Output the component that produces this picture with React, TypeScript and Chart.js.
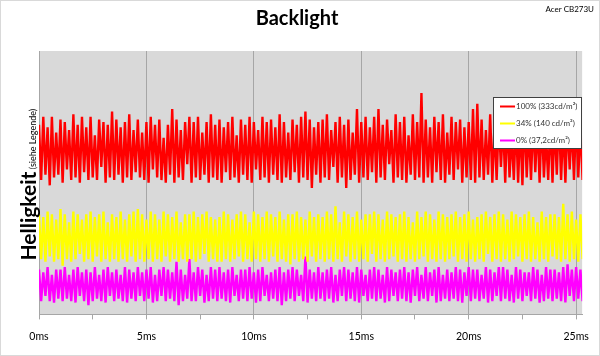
import { useEffect, useRef } from 'react';
import { Chart, registerables } from 'chart.js';

Chart.register(...registerables);

const TITLE = 'Backlight';
const BRAND = 'Acer CB273U';
const Y_TITLE_MAIN = 'Helligkeit';
const Y_TITLE_SUB = ' (siehe Legende)';
const TIME_STEP_MS = 0.1;
const X_MAX_MS = 25.28;
const X_TICKS = [0, 2.5, 5, 7.5, 10, 12.5, 15, 17.5, 20, 22.5, 25];
const LEGEND_LABELS = ['100% (333cd/m²)', '34% (140 cd/m²)', '0% (37,2cd/m²)'];
const SERIES_COLORS = ['#ff0000', '#ffff00', '#ff00ff'];

const RED_100 = [
  72, 51, 75, 53, 71, 49, 75, 52, 69, 53, 74, 50,
  73, 55, 70, 51, 76, 52, 72, 50, 75, 54, 71, 51,
  75, 52, 68, 51, 74, 56, 73, 50, 72, 52, 77, 51,
  74, 53, 71, 50, 73, 52, 76, 51, 70, 54, 74, 52,
  69, 51, 73, 50, 75, 55, 72, 52, 74, 51, 67, 50,
  72, 53, 78, 50, 74, 52, 70, 51, 73, 57, 75, 50,
  73, 52, 75, 51, 69, 53, 73, 50, 76, 52, 72, 51,
  74, 50, 71, 54, 73, 51, 75, 52, 68, 50, 74, 53,
  72, 51, 75, 50, 73, 55, 70, 51, 75, 52, 73, 50,
  74, 53, 71, 51, 76, 50, 73, 52, 69, 51, 74, 54,
  72, 50, 75, 52, 77, 51, 74, 48, 71, 53, 73, 50,
  74, 52, 76, 51, 70, 56, 73, 50, 75, 52, 72, 48,
  74, 51, 69, 53, 78, 50, 73, 52, 75, 51, 71, 54,
  75, 50, 78, 52, 72, 51, 74, 57, 70, 50, 76, 52,
  73, 51, 75, 50, 68, 53, 76, 51, 73, 52, 84, 50,
  74, 52, 71, 50, 75, 54, 73, 51, 76, 50, 69, 53,
  75, 51, 73, 55, 74, 50, 71, 52, 73, 51, 78, 50,
  80, 52, 74, 51, 70, 53, 76, 50, 72, 51, 74, 56,
  73, 50, 75, 52, 69, 51, 74, 50, 73, 49, 76, 52,
  71, 51, 74, 54, 73, 50, 75, 52, 68, 51, 74, 50,
  73, 53, 76, 51, 72, 50, 74, 55, 73, 51, 75, 52,
  72, 51,
];

const YELLOW_34 = [
  38, 21, 37, 20, 39, 22, 38, 20, 36, 21, 40, 18.5,
  38, 21, 35, 20, 39, 21, 38, 23, 36, 20, 38, 21,
  39, 20, 37, 22, 38, 20, 39, 21, 35, 20, 38, 21,
  37, 20, 39, 21, 36, 20, 38, 22, 39, 20, 40, 21,
  38, 20, 36, 21, 39, 20, 38, 21, 36, 20, 39, 22,
  38, 20, 37, 21, 39, 20, 35, 21, 38, 20, 38, 21,
  39, 20, 37, 21, 38, 23, 39, 20, 37, 21, 36, 20,
  37, 20, 39, 21, 38, 20, 36, 21, 38, 22, 39, 20,
  38, 21, 35, 20, 39, 21, 38, 20, 37, 21, 39, 20,
  38, 22, 37, 20, 39, 21, 36, 20, 38, 19, 38, 21,
  39, 20, 37, 21, 36, 20, 39, 22, 37, 20, 38, 21,
  37, 20, 39, 21, 38, 20, 41, 21, 35, 20, 39, 22,
  38, 20, 37, 21, 39, 20, 36, 21, 38, 20, 38, 23,
  39, 20, 38, 21, 36, 20, 39, 21, 38, 22, 37, 20,
  38, 21, 39, 20, 37, 21, 35, 20, 39, 21, 37, 22,
  39, 20, 38, 21, 36, 20, 39, 21, 38, 20, 37, 21,
  38, 22, 39, 20, 37, 21, 38, 20, 39, 21, 36, 20,
  37, 21, 38, 20, 39, 23, 37, 20, 38, 21, 39, 20,
  38, 21, 36, 20, 39, 21, 38, 22, 37, 20, 38, 21,
  39, 20, 37, 21, 35, 20, 39, 21, 37, 20, 38, 22,
  38, 21, 37, 20, 42, 21, 38, 20, 39, 21, 36, 20,
  38, 21,
];

const MAGENTA_0 = [
  17, 5, 16, 7, 18, 5, 15, 4.5, 17, 6, 17, 5,
  18, 6, 15, 5, 17, 4.5, 18, 7, 16, 5, 17, 3.5,
  16, 5, 18, 6, 15, 5, 17, 4.5, 18, 7, 16, 5,
  17, 6, 15, 5, 18, 4.5, 17, 6, 16, 5, 18, 7,
  16, 5, 17, 6, 18, 4.5, 15, 5, 17, 7, 18, 5,
  17, 6, 16, 5, 20, 3.5, 17, 5, 15, 6, 21, 5,
  16, 5, 18, 7, 17, 4.5, 15, 5, 18, 6, 17, 5,
  18, 6, 16, 5, 17, 4.5, 18, 7, 15, 5, 17, 6,
  17, 5, 18, 6, 16, 4.5, 17, 5, 18, 7, 15, 5,
  16, 6, 17, 5, 18, 3.5, 16, 5, 17, 6, 18, 5,
  17, 7, 15, 5, 22, 4.5, 17, 6, 16, 5, 18, 6,
  16, 5, 17, 6, 18, 4.5, 15, 5, 17, 7, 18, 5,
  17, 6, 16, 5, 18, 4.5, 17, 7, 15, 5, 17, 6,
  18, 5, 17, 6, 15, 4.5, 18, 5, 17, 7, 16, 5,
  17, 6, 18, 5, 16, 4.5, 17, 7, 18, 5, 15, 6,
  18, 5, 16, 7, 17, 4.5, 18, 5, 15, 6, 17, 5,
  16, 6, 18, 5, 17, 4.5, 16, 7, 18, 5, 17, 6,
  17, 5, 15, 6, 18, 4.5, 17, 5, 16, 7, 18, 5,
  18, 6, 17, 5, 15, 4.5, 18, 6, 17, 5, 16, 7,
  16, 5, 18, 6, 17, 4.5, 15, 5, 18, 6, 17, 5,
  17, 6, 16, 5, 18, 4.5, 19, 7, 17, 5, 18, 6,
  17, 5,
];

const FONT = 'Lato, "Open Sans", sans-serif';

const toPoints = (values: number[]) => values.map((v, i) => ({ x: i * TIME_STEP_MS, y: v }));

export default function App() {
  const ref = useRef<HTMLCanvasElement>(null);

  useEffect(() => {
    document.body.style.margin = '0';
    const canvas = ref.current;
    if (!canvas) return;

    const decor = {
      id: 'decor',
      beforeDraw(chart: any) {
        const { ctx, chartArea: a } = chart;
        ctx.save();
        ctx.fillStyle = '#ffffff';
        ctx.fillRect(0, 0, chart.width, chart.height);
        ctx.fillStyle = '#d9d9d9';
        ctx.fillRect(a.left, a.top, a.right - a.left, a.bottom - a.top);
        ctx.restore();
      },
      afterDraw(chart: any) {
        const { ctx, chartArea: a } = chart;
        ctx.save();
        // title
        ctx.fillStyle = '#000000';
        ctx.font = `bold 20px ${FONT}`;
        ctx.textAlign = 'center';
        ctx.textBaseline = 'alphabetic';
        ctx.fillText(TITLE, 297, 25);
        // brand
        ctx.font = `8px ${FONT}`;
        ctx.textAlign = 'right';
        ctx.fillText(BRAND, 594, 12);
        // y-axis title
        ctx.save();
        const cy = (a.top + a.bottom) / 2 + 2;
        ctx.translate(36, cy);
        ctx.rotate(-Math.PI / 2);
        ctx.textAlign = 'left';
        ctx.font = `bold 21px ${FONT}`;
        const w1 = ctx.measureText(Y_TITLE_MAIN).width;
        ctx.font = `9px ${FONT}`;
        const w2 = ctx.measureText(Y_TITLE_SUB).width;
        const start = -(w1 + w2) / 2;
        ctx.font = `bold 21px ${FONT}`;
        ctx.fillText(Y_TITLE_MAIN, start, 0);
        ctx.font = `9px ${FONT}`;
        ctx.fillText(Y_TITLE_SUB, start + w1, 0);
        ctx.restore();
        // legend
        const lx = 493, ly = 97, lw = 88, lh = 51;
        ctx.fillStyle = '#ffffff';
        ctx.fillRect(lx, ly, lw, lh);
        ctx.strokeStyle = '#404040';
        ctx.lineWidth = 1;
        ctx.strokeRect(lx + 0.5, ly + 0.5, lw, lh);
        ctx.font = `8px ${FONT}`;
        ctx.textAlign = 'left';
        ctx.textBaseline = 'middle';
        LEGEND_LABELS.forEach((label, i) => {
          const y = ly + 9.5 + i * 17;
          ctx.strokeStyle = SERIES_COLORS[i];
          ctx.lineWidth = 2;
          ctx.beginPath();
          ctx.moveTo(lx + 7, y);
          ctx.lineTo(lx + 22, y);
          ctx.stroke();
          ctx.fillStyle = '#333333';
          ctx.fillText(label, lx + 23, y);
        });
        // outer border
        ctx.strokeStyle = '#d9d9d9';
        ctx.lineWidth = 1;
        ctx.strokeRect(0.5, 0.5, chart.width - 1, chart.height - 1);
        ctx.restore();
      },
    };

    const series = [RED_100, YELLOW_34, MAGENTA_0];

    const chart = new Chart(canvas, {
      type: 'line',
      data: {
        datasets: series.map((values, i) => ({
          label: LEGEND_LABELS[i],
          data: toPoints(values),
          borderColor: SERIES_COLORS[i],
          backgroundColor: SERIES_COLORS[i],
          borderWidth: 2.4,
          pointRadius: 0,
          tension: 0,
          fill: false,
        })),
      },
      options: {
        responsive: false,
        animation: false,
        devicePixelRatio: 1,
        layout: { padding: { left: 39, right: 17, top: 51, bottom: 2 } },
        plugins: {
          legend: { display: false },
          title: { display: false },
          tooltip: { enabled: false },
        },
        scales: {
          x: {
            type: 'linear',
            min: 0,
            max: X_MAX_MS,
            afterBuildTicks: (scale: any) => {
              scale.ticks = X_TICKS.map((value) => ({ value }));
            },
            grid: {
              color: (ctx: any) =>
                ctx.tick && ctx.tick.value % 5 === 0 ? '#a6a6a6' : 'rgba(0,0,0,0)',
              tickColor: '#a6a6a6',
              tickLength: 5,
              drawTicks: true,
              lineWidth: 1,
            },
            border: { display: true, color: '#a6a6a6' },
            ticks: {
              autoSkip: false,
              maxRotation: 0,
              padding: 11,
              color: '#000000',
              font: { family: FONT, size: 10.5 },
              callback: (v: any) => (Number(v) % 5 === 0 ? `${v}ms` : ''),
            },
          },
          y: {
            display: false,
            min: 0,
            max: 100,
          },
        },
      },
      plugins: [decor],
    });

    return () => chart.destroy();
  }, []);

  return (
    <div style={{ width: 600, height: 356 }}>
      <canvas ref={ref} width={600} height={356} style={{ display: 'block' }} />
    </div>
  );
}
